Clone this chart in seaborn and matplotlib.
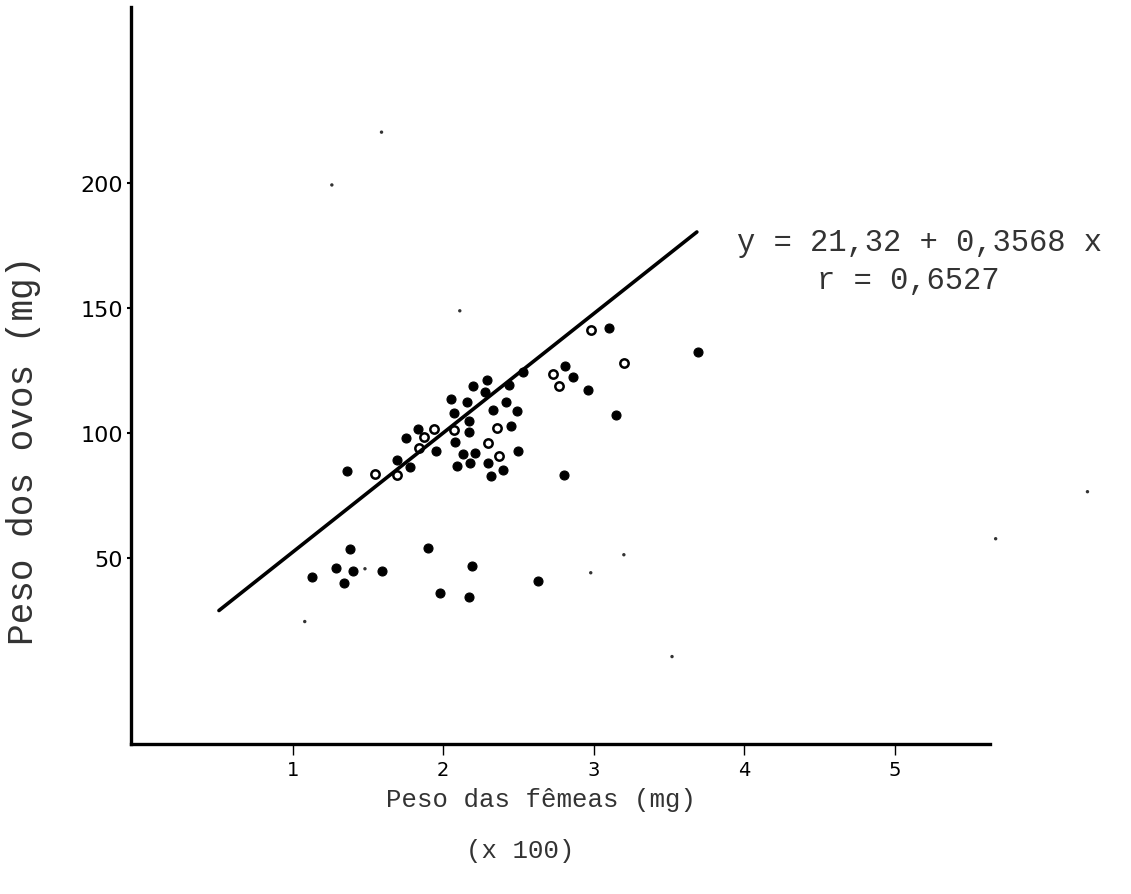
import matplotlib
matplotlib.use("Agg")
import matplotlib.pyplot as plt
import seaborn as sns
import pandas as pd

# ---- data ----
peso_femeas = [3.69, 2.98, 3.10, 3.20, 2.81, 2.73, 2.86, 2.77, 2.96, 2.53,
               2.44, 2.29, 2.20, 2.28, 2.05, 2.16, 2.33, 2.42, 2.49, 2.07,
               2.17, 3.15, 2.36, 2.45, 2.17, 2.07, 1.94, 1.83, 1.75, 1.87,
               2.08, 1.84, 1.95, 2.30, 2.13, 2.21, 2.50, 2.37, 1.69, 2.09,
               2.18, 2.30, 1.78, 1.36, 1.55, 1.69, 2.32, 2.40, 2.80,
               1.38, 1.90, 1.13, 1.29, 1.40, 1.34, 1.59, 2.19, 1.98, 2.17, 2.63]
peso_ovos = [132.6, 141.4, 142.2, 128.2, 127.0, 123.8, 122.6, 119.0, 117.4, 124.6,
             119.4, 121.4, 119.0, 116.6, 113.8, 112.6, 109.4, 112.6, 109.0, 108.2,
             105.0, 107.4, 102.2, 103.0, 100.6, 101.4, 101.8, 101.8, 98.2, 98.6,
             96.6, 94.2, 93.1, 96.2, 91.9, 92.3, 93.1, 91.1, 89.5, 87.1,
             88.3, 88.3, 86.7, 85.1, 83.9, 83.5, 83.1, 85.5, 83.5,
             53.9, 54.3, 42.7, 46.3, 45.1, 40.3, 45.1, 47.1, 36.3, 34.7, 41.1]
marca = ["cheio", "aberto", "cheio", "aberto", "cheio", "aberto", "cheio", "aberto", "cheio", "cheio",
         "cheio", "cheio", "cheio", "cheio", "cheio", "cheio", "cheio", "cheio", "cheio", "cheio",
         "cheio", "cheio", "aberto", "cheio", "cheio", "aberto", "aberto", "cheio", "cheio", "aberto",
         "cheio", "aberto", "cheio", "aberto", "cheio", "cheio", "cheio", "aberto", "cheio", "cheio",
         "cheio", "cheio", "cheio", "cheio", "aberto", "aberto", "cheio", "cheio", "cheio",
         "cheio", "cheio", "cheio", "cheio", "cheio", "cheio", "cheio", "cheio", "cheio", "cheio", "cheio"]

# faint small marks
fracos_x = [2.11, 1.59, 1.26, 3.52, 1.08, 3.20, 1.48, 2.98, 6.28, 5.67]
fracos_y = [149.0, 220.4, 199.3, 10.8, 24.8, 51.5, 45.9, 44.3, 76.7, 57.9]

# regression line as drawn
reta_x = [0.51, 3.685]
reta_y = [29.2, 180.5]

xticks = [1, 2, 3, 4, 5]
yticks = [50, 100, 150, 200]

# ---- plot ----
sns.set_theme(style="white")
plt.rcParams["font.family"] = ["DejaVu Sans"]

fig = plt.figure(figsize=(11.31, 8.95), dpi=100)
ax = fig.add_axes([0.116, 0.168, 0.759, 0.823])

df = pd.DataFrame({"x": peso_femeas, "y": peso_ovos, "marca": marca})
sns.lineplot(x=reta_x, y=reta_y, ax=ax, color="black", linewidth=2.6)
sns.scatterplot(data=df[df.marca == "cheio"], x="x", y="y", ax=ax, s=42,
                color="black", edgecolor="black", linewidth=0.8, legend=False)
sns.scatterplot(data=df[df.marca == "aberto"], x="x", y="y", ax=ax, s=36,
                facecolor="white", edgecolor="black", linewidth=1.8, legend=False)
sns.scatterplot(x=fracos_x, y=fracos_y, ax=ax, s=6, color="#333333",
                edgecolor="none", legend=False)
for c in ax.collections:
    c.set_clip_on(False)

ax.set_xlim(-0.073, 5.63)
ax.set_ylim(-24, 270.4)

for side in ["top", "right"]:
    ax.spines[side].set_visible(False)
for side in ["left", "bottom"]:
    ax.spines[side].set_color("black")
    ax.spines[side].set_linewidth(2.4)

ax.set_xticks(xticks)
ax.set_xticklabels([str(v) for v in xticks], fontsize=14, color="black")
ax.set_yticks(yticks)
ax.set_yticklabels([str(v) for v in yticks], fontsize=16, color="black")
ax.tick_params(axis="x", direction="out", length=8, width=1.0, pad=4,
               bottom=True, color="black")
ax.tick_params(axis="y", direction="out", length=3, width=1.5, pad=3,
               left=True, color="black")

mono = ["Liberation Mono", "DejaVu Sans Mono"]
ax.set_xlabel("")
ax.set_ylabel("Peso dos ovos (mg)", family=mono, fontsize=26, color="#333333")
ax.yaxis.set_label_coords(-0.105, 0.40)
fig.text(0.478, 0.106, "Peso das fêmeas (mg)", family=mono, fontsize=18.5,
         color="#333333", ha="center", va="center")
fig.text(0.46, 0.049, "(x 100)", family=mono, fontsize=18.5,
         color="#333333", ha="center", va="center")

fig.text(0.652, 0.728, "y = 21,32 + 0,3568 x", family=mono, fontsize=22,
         color="#333333", ha="left", va="center")
fig.text(0.722, 0.686, "r = 0,6527", family=mono, fontsize=22,
         color="#333333", ha="left", va="center")

fig.savefig("out.png", dpi=100, facecolor="white")
